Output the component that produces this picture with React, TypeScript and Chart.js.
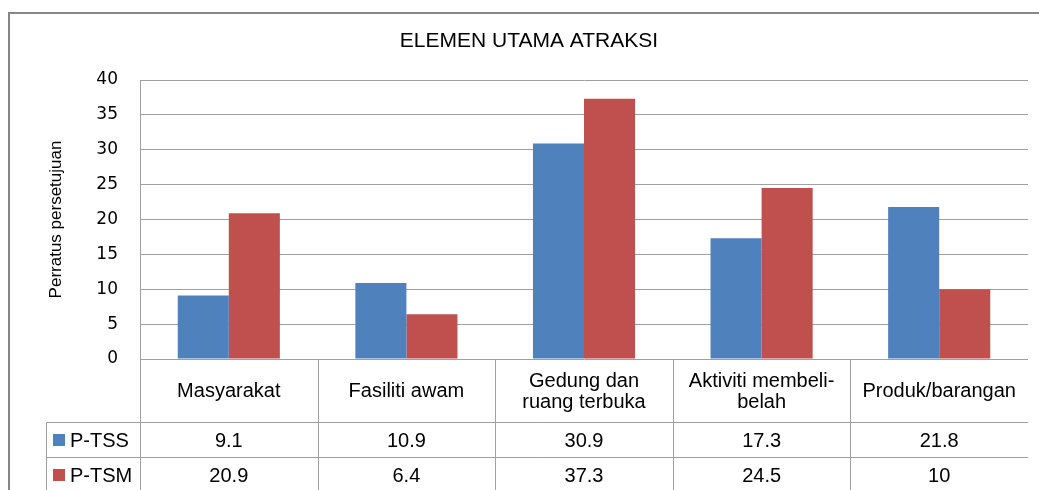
import { useEffect, useRef } from 'react';
import { Chart, registerables } from 'chart.js';

Chart.register(...registerables);

const chartTitle = 'ELEMEN UTAMA ATRAKSI';
const yAxisTitle = 'Perratus persetujuan';
const categoryLines: string[][] = [
  ['Masyarakat'],
  ['Fasiliti awam'],
  ['Gedung dan', 'ruang terbuka'],
  ['Aktiviti membeli-', 'belah'],
  ['Produk/barangan'],
];
const categories = categoryLines.map((l) => l.join(' '));
const seriesNames = ['P-TSS', 'P-TSM'];
const pTSS = [9.1, 10.9, 30.9, 17.3, 21.8];
const pTSM = [20.9, 6.4, 37.3, 24.5, 10];
const seriesColors = ['#4F81BD', '#C0504D'];
const yTicksMin = 0;
const yTicksMax = 40;
const yTicksStep = 5;

const GRID = '#a0a0a0';
const SANS = '"Liberation Sans", Arial, sans-serif';

const framePlugin = {
  id: 'frameAndTable',
  beforeDraw(chart: any) {
    const ctx = chart.ctx;
    ctx.save();
    ctx.fillStyle = '#ffffff';
    ctx.fillRect(0, 0, chart.width, chart.height);
    ctx.strokeStyle = '#878787';
    ctx.lineWidth = 2;
    ctx.strokeRect(9, 13, chart.width + 50, chart.height + 50);
    ctx.fillStyle = '#000000';
    ctx.font = `21px ${SANS}`;
    ctx.textAlign = 'center';
    ctx.textBaseline = 'middle';
    ctx.fillText(chartTitle, 529, 41);
    ctx.restore();
  },
  afterDraw(chart: any) {
    const { ctx, chartArea } = chart;
    const xs = chart.scales.x;
    const left = Math.round(chartArea.left) + 0.5;
    const right = chartArea.right;
    const top = chartArea.bottom;
    const step = xs.getPixelForValue(1) - xs.getPixelForValue(0);
    const y1 = Math.round(top + 63) + 0.5;
    const y2 = y1 + 35;
    const legendLeft = 46.5;
    const bottom = chart.height;

    ctx.save();
    ctx.strokeStyle = GRID;
    ctx.lineWidth = 1;
    ctx.beginPath();
    [y1, y2].forEach((y) => {
      ctx.moveTo(legendLeft, y);
      ctx.lineTo(right, y);
    });
    ctx.moveTo(legendLeft, y1);
    ctx.lineTo(legendLeft, bottom);
    ctx.moveTo(left, top);
    ctx.lineTo(left, bottom);
    for (let i = 1; i < categories.length; i++) {
      const bx = Math.round(xs.getPixelForValue(i) - step / 2) + 0.5;
      ctx.moveTo(bx, top);
      ctx.lineTo(bx, bottom);
    }
    ctx.stroke();

    ctx.fillStyle = '#000000';
    ctx.font = `20px ${SANS}`;
    ctx.textAlign = 'center';
    ctx.textBaseline = 'middle';
    const labelCenter = (top + y1) / 2;
    categoryLines.forEach((lines, i) => {
      const cx = xs.getPixelForValue(i);
      const lh = 21;
      const start = labelCenter - ((lines.length - 1) * lh) / 2;
      lines.forEach((t, j) => ctx.fillText(t, cx, start + j * lh + 1));
    });

    const rows = [pTSS, pTSM];
    rows.forEach((vals, r) => {
      const cy = y1 + 17.5 + r * 35;
      ctx.textAlign = 'center';
      ctx.fillStyle = '#000000';
      vals.forEach((v, i) => ctx.fillText(String(v), xs.getPixelForValue(i), cy + 1));
      ctx.fillStyle = seriesColors[r];
      ctx.fillRect(53, Math.round(cy - 6), 12, 12);
      ctx.fillStyle = '#000000';
      ctx.textAlign = 'left';
      ctx.fillText(seriesNames[r], 70, cy + 1);
    });
    ctx.restore();
  },
};

export default function App() {
  const ref = useRef<HTMLCanvasElement>(null);
  useEffect(() => {
    if (!ref.current) return;
    const chart = new Chart(ref.current, {
      type: 'bar',
      data: {
        labels: categories,
        datasets: [
          { label: seriesNames[0], data: pTSS, backgroundColor: seriesColors[0], borderWidth: 0 },
          { label: seriesNames[1], data: pTSM, backgroundColor: seriesColors[1], borderWidth: 0 },
        ],
      },
      options: {
        responsive: false,
        animation: false,
        devicePixelRatio: 1,
        layout: { padding: { top: 80, right: 11, bottom: 131, left: 0 } },
        datasets: { bar: { categoryPercentage: 0.575, barPercentage: 1 } },
        plugins: {
          legend: { display: false },
          title: { display: false },
          tooltip: { enabled: false },
        },
        scales: {
          x: { display: false },
          y: {
            min: yTicksMin,
            max: yTicksMax,
            ticks: {
              stepSize: yTicksStep,
              padding: 22,
              color: '#000000',
              font: { family: '"DejaVu Sans", sans-serif', size: 17 },
            },
            grid: { color: GRID, drawTicks: false, lineWidth: 1 },
            border: { color: GRID, width: 1 },
            title: {
              display: true,
              text: yAxisTitle,
              color: '#000000',
              font: { family: SANS, size: 17 },
              padding: { top: 46, bottom: 0 },
            },
            afterFit(scale: any) {
              scale.width = 140;
            },
          },
        },
      },
      plugins: [framePlugin],
    } as any);
    return () => chart.destroy();
  }, []);
  return (
    <div style={{ position: 'fixed', left: 0, top: 0, width: 1039, height: 490 }}>
      <canvas ref={ref} width={1039} height={490} style={{ display: 'block' }} />
    </div>
  );
}
